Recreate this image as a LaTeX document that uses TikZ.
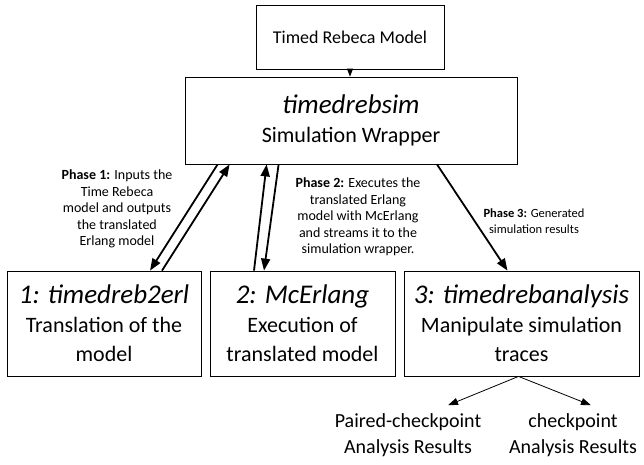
\documentclass[tikz,border=0pt]{standalone}
\usepackage{fontspec}
\setmainfont{Carlito}
\usetikzlibrary{arrows.meta,calc}

\begin{document}
\begin{tikzpicture}[x=1pt, y=-1pt,
	every node/.style={font=\fontsize{14}{16.5}\selectfont},
	box/.style={draw, line width=0.8pt, align=center, inner sep=0pt, font=\fontsize{22}{29}\selectfont},
	phase/.style={-{Triangle[length=12pt,width=9pt]}, line width=1.8pt},
	thin arrow/.style={-{Triangle[length=10pt,width=7pt]}, line width=0.8pt},
	note/.style={align=center, font=\fontsize{14}{16.5}\selectfont},
	res/.style={align=center, inner sep=0pt, font=\fontsize{20}{26}\selectfont}]
	\useasboundingbox (0,0) rectangle (644,464);
	\node[box, minimum width=188pt, minimum height=64pt, font=\fontsize{18}{22}\selectfont] (model) at (350,37.5) {Timed Rebeca Model};
	\node[box, minimum width=332pt, minimum height=87pt] (wrapper) at (351,120.5) {{\fontsize{27}{29}\selectfont\itshape timedrebsim}\\Simulation Wrapper};
	\node[box, minimum width=194pt, minimum height=105pt] (trans) at (104,323.5) {{\fontsize{27}{29}\selectfont\itshape 1: timedreb2erl}\\Translation of the\\model};
	\node[box, minimum width=185pt, minimum height=105pt] (exec) at (302.5,323.5) {{\fontsize{27}{29}\selectfont\itshape 2: McErlang}\\Execution of\\translated model};
	\node[box, minimum width=235pt, minimum height=105pt] (analysis) at (521.5,323.5) {{\fontsize{27}{29}\selectfont\itshape 3: timedrebanalysis}\\Manipulate simulation\\traces};
	\node[res] (pcres) at (408,435) {Paired-checkpoint\\Analysis Results};
	\node[res] (ckres) at (573,435) {checkpoint\\Analysis Results};
	% phase labels
	\node[note] (ph1) at (117,209) {\textbf{Phase 1:} Inputs the\\Time Rebeca\\model and outputs\\the translated\\Erlang model};
	\node[note] (ph2) at (358,217) {\textbf{Phase 2:} Executes the\\translated Erlang\\model with McErlang\\and streams it to the\\simulation wrapper.};
	\node[note, font=\fontsize{12.5}{16}\selectfont] (ph3) at (534,221) {\textbf{Phase 3:} Generated\\simulation results};
	% connectors
	\draw[-{Triangle[length=8pt,width=6pt]}, line width=0.8pt] (model.south) -- (model.south |- wrapper.north);
	\draw[phase] ($(wrapper.south west)+(33,0)$) -- ($(trans.north)+(46,0)$);
	\draw[phase] ($(trans.north)+(58,0)$) -- ($(wrapper.south west)+(45,0)$);
	\draw[phase] ($(exec.north)+(-48.5,0)$) -- ($(wrapper.south west)+(82,0)$);
	\draw[phase] ($(wrapper.south west)+(94,0)$) -- ($(exec.north)+(-38.5,0)$);
	\draw[phase] ($(wrapper.south)+(86,0)$) -- ($(analysis.north)+(-14,0)$);
	\draw[thin arrow] ($(analysis.south)+(-3,0)$) -- ($(pcres.north)+(40,-8)$);
	\draw[thin arrow] ($(analysis.south)+(-3,0)$) -- ($(ckres.north)+(18,-8)$);
\end{tikzpicture}
\end{document}
